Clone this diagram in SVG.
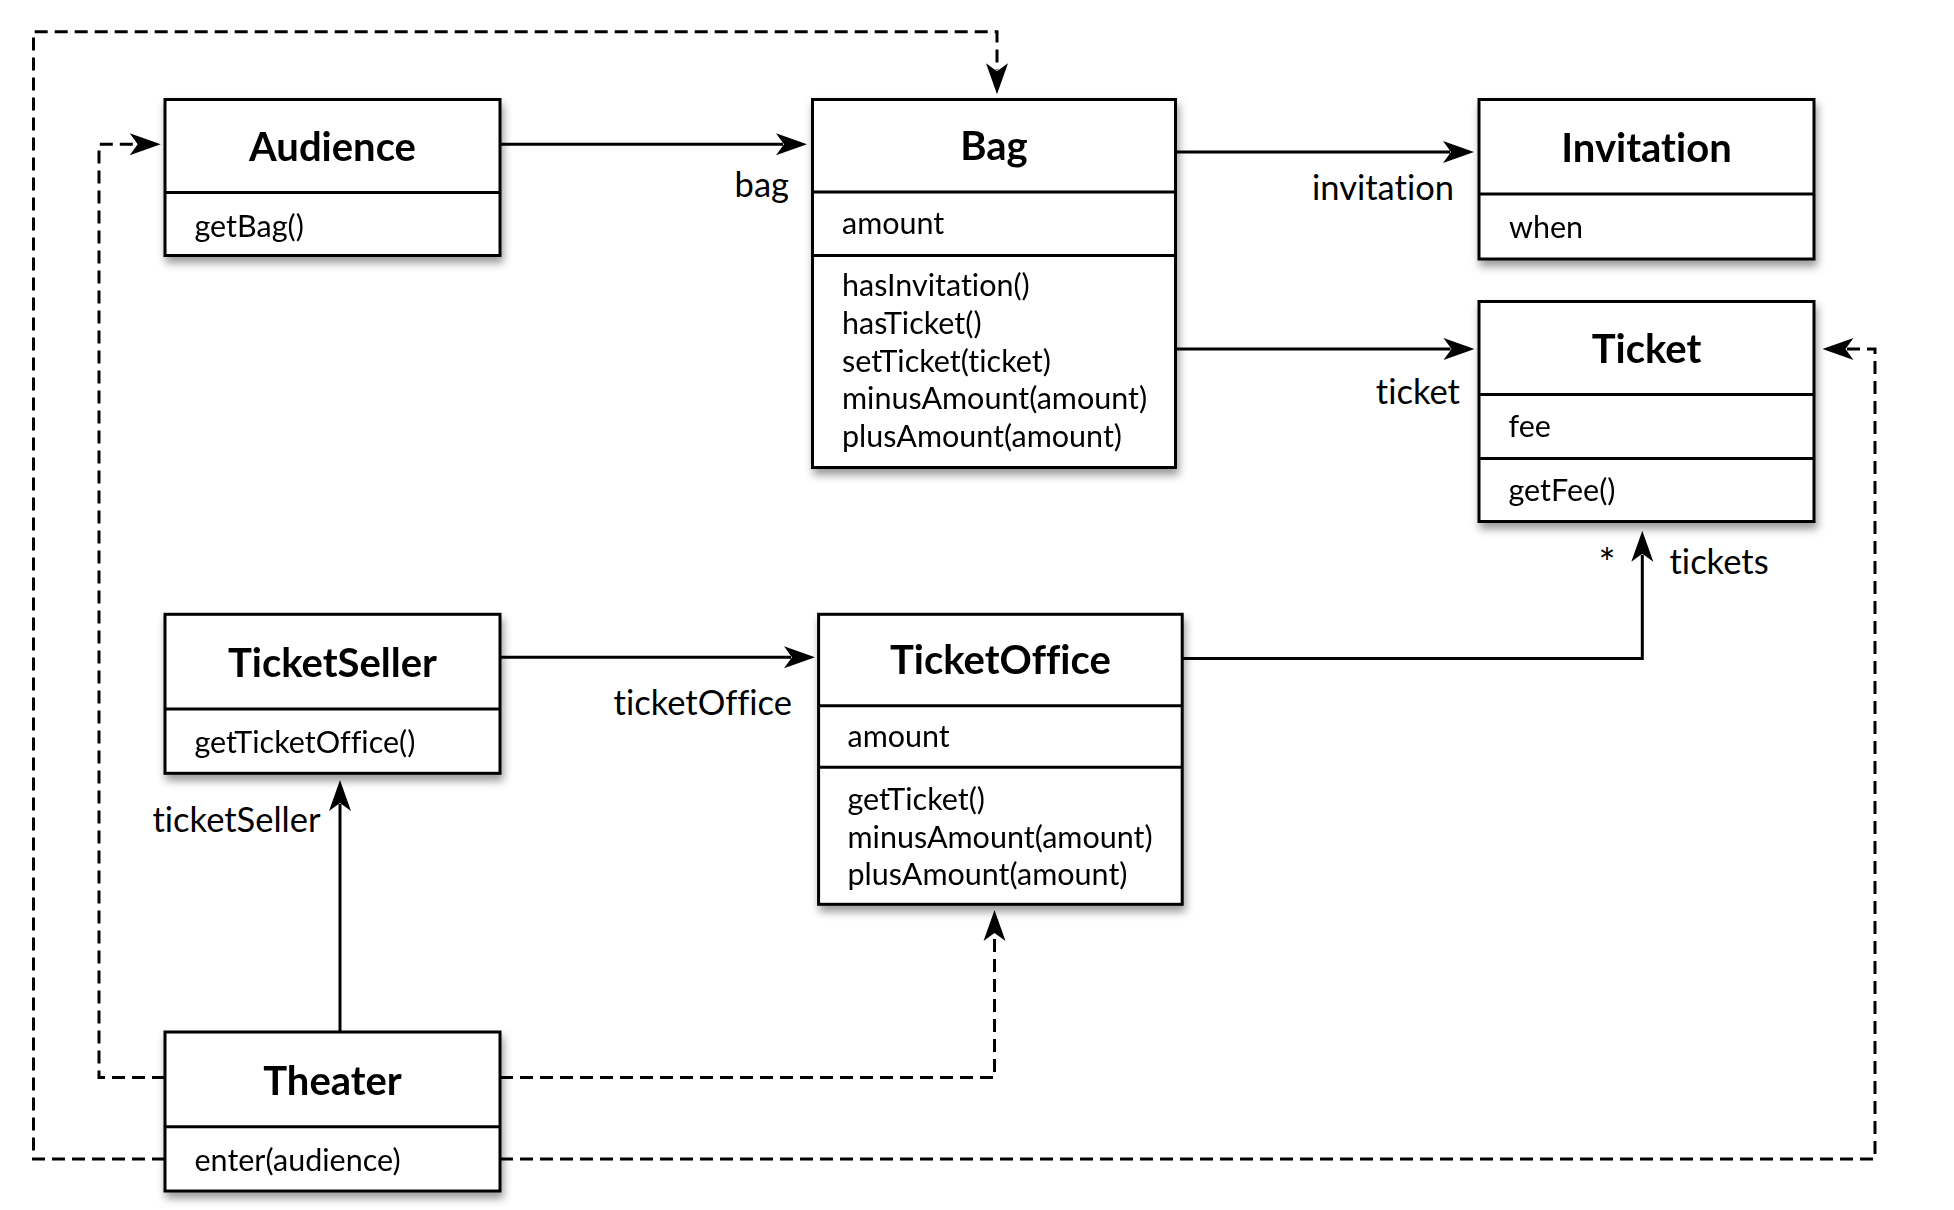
<svg xmlns="http://www.w3.org/2000/svg" width="1954" height="1210" viewBox="0 0 1954 1210">
  <defs>
    <filter id="shadow" x="-10%" y="-10%" width="130%" height="140%">
      <feDropShadow dx="2" dy="6" stdDeviation="4" flood-color="#000" flood-opacity="0.4"/>
    </filter>
    <!-- filled arrowhead; tip sits 24 units past the line end -->
    <marker id="arrow" markerUnits="userSpaceOnUse" viewBox="-8 -12 34 24" markerWidth="34" markerHeight="24" refX="0" refY="0" orient="auto" overflow="visible">
      <path d="M24,0 L-7,-11 L1,0 L-7,11 Z" fill="#000" stroke="none"/>
    </marker>
  </defs>
  <style>
    text { font-family: Lato, "Liberation Sans", sans-serif; fill: #000; font-variant-ligatures: none; }
    .box rect { fill: #fff; stroke: #000; stroke-width: 3; }
    .box line { stroke: #000; stroke-width: 3; }
    .title { font-weight: bold; font-size: 40px; text-anchor: middle; }
    .member { font-size: 30.5px; }
    .label { font-size: 34.5px; }
    .star { font-size: 40px; }
    .assoc { fill: none; stroke: #000; stroke-width: 3; marker-end: url(#arrow); }
    .dep { fill: none; stroke: #000; stroke-width: 3; stroke-dasharray: 13 7; marker-end: url(#arrow); }
  </style>

  <rect width="1954" height="1210" fill="#fff"/>

  <!-- connectors -->
  <g id="connectors">
    <path class="assoc" d="M500,144.3 H783"/>
    <path class="assoc" d="M1175.5,152 H1450"/>
    <path class="assoc" d="M1175.5,349 H1450.5"/>
    <path class="assoc" d="M500,657.3 H791"/>
    <path class="assoc" d="M1182,658.5 H1642.3 V554.7"/>
    <path class="assoc" d="M340,1032 V804"/>
    <path class="dep" d="M165,1077.5 H99 V144.3 H136.7"/>
    <path class="dep" d="M500,1077.5 H994.5 V934"/>
    <path class="dep" d="M165,1159 H33.5 V31.7 H997 V70.3"/>
    <path class="dep" d="M500,1159 H1875 V349 H1846.5"/>
    <text class="label" x="789" y="197" text-anchor="end">bag</text>
    <text class="label" x="1312" y="200">invitation</text>
    <text class="label" x="1460" y="404" text-anchor="end">ticket</text>
    <text class="label star" x="1607" y="578" text-anchor="middle">*</text>
    <text class="label" x="1669.5" y="574">tickets</text>
    <text class="label" x="792" y="715" text-anchor="end">ticketOffice</text>
    <text class="label" x="320.5" y="831.7" text-anchor="end">ticketSeller</text>
  </g>

  <g id="audience" class="box" filter="url(#shadow)">
    <rect x="165" y="99.5" width="335" height="156"/>
    <line x1="165" y1="192.5" x2="500" y2="192.5"/>
    <text class="title" x="332.5" y="161">Audience</text>
    <text class="member" x="194.5" y="237">getBag()</text>
  </g>

  <g id="bag" class="box" filter="url(#shadow)">
    <rect x="812.5" y="99.5" width="363" height="368"/>
    <line x1="812.5" y1="192" x2="1175.5" y2="192"/>
    <line x1="812.5" y1="255.5" x2="1175.5" y2="255.5"/>
    <text class="title" x="994" y="160">Bag</text>
    <text class="member" x="842" y="234">amount</text>
    <text class="member" x="842" y="296">hasInvitation()</text>
    <text class="member" x="842" y="334">hasTicket()</text>
    <text class="member" x="842" y="371.5">setTicket(ticket)</text>
    <text class="member" x="842" y="409">minusAmount(amount)</text>
    <text class="member" x="842" y="446.5">plusAmount(amount)</text>
  </g>

  <g id="invitation" class="box" filter="url(#shadow)">
    <rect x="1479" y="99.5" width="335" height="159.5"/>
    <line x1="1479" y1="194" x2="1814" y2="194"/>
    <text class="title" x="1646.5" y="161.5">Invitation</text>
    <text class="member" x="1509" y="238">when</text>
  </g>

  <g id="ticket" class="box" filter="url(#shadow)">
    <rect x="1479" y="301.5" width="335" height="220"/>
    <line x1="1479" y1="394.5" x2="1814" y2="394.5"/>
    <line x1="1479" y1="458.5" x2="1814" y2="458.5"/>
    <text class="title" x="1646.5" y="363.3">Ticket</text>
    <text class="member" x="1508.5" y="437.3">fee</text>
    <text class="member" x="1508.5" y="500.7">getFee()</text>
  </g>

  <g id="ticketSeller" class="box" filter="url(#shadow)">
    <rect x="165" y="614.3" width="335" height="159"/>
    <line x1="165" y1="709" x2="500" y2="709"/>
    <text class="title" x="332.5" y="676.7">TicketSeller</text>
    <text class="member" x="194.5" y="752.7">getTicketOffice()</text>
  </g>

  <g id="ticketOffice" class="box" filter="url(#shadow)">
    <rect x="818.6" y="614.3" width="363.6" height="290"/>
    <line x1="818.6" y1="705.7" x2="1182.2" y2="705.7"/>
    <line x1="818.6" y1="767.3" x2="1182.2" y2="767.3"/>
    <text class="title" x="1000.4" y="674.3">TicketOffice</text>
    <text class="member" x="847.5" y="746.7">amount</text>
    <text class="member" x="847.5" y="810">getTicket()</text>
    <text class="member" x="847.5" y="848.3">minusAmount(amount)</text>
    <text class="member" x="847.5" y="885">plusAmount(amount)</text>
  </g>

  <g id="theater" class="box" filter="url(#shadow)">
    <rect x="165" y="1032" width="335" height="159"/>
    <line x1="165" y1="1126.7" x2="500" y2="1126.7"/>
    <text class="title" x="332.5" y="1095">Theater</text>
    <text class="member" x="194.5" y="1170.5">enter(audience)</text>
  </g>
</svg>
